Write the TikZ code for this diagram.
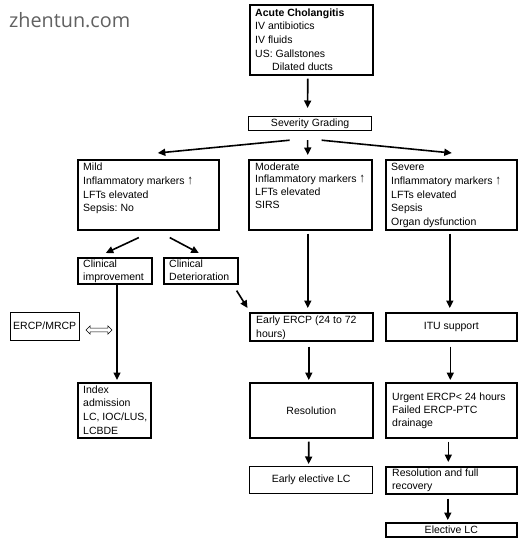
\documentclass[tikz,border=0pt]{standalone}
\usepackage{fontspec}
\setmainfont{Liberation Sans}
\newfontfamily\wmfont{Open Sans}
\usetikzlibrary{arrows.meta,shapes.arrows,calc}
\newcommand{\uparr}{\scalebox{1}[1.25]{↑}}
\frenchspacing
\begin{document}
\begin{tikzpicture}[x=1pt,y=-1pt,
  box/.style={draw, line width=1.6pt, inner sep=0pt, anchor=north west},
  thinbox/.style={box, line width=1pt},
  txt/.style={anchor=north west, inner sep=0pt, align=left, font=\fontsize{10.5}{13.7}\selectfont},
  ctxt/.style={anchor=center, inner sep=0pt, font=\fontsize{10.5}{13.7}\selectfont},
  arr/.style={line width=1.6pt, -{Triangle[length=7.5pt,width=7pt]}},
]
\useasboundingbox[fill=white] (0,0) rectangle (525,542);

% watermark
\node[anchor=base west, inner sep=0pt, text=black!62, font=\wmfont\fontsize{19.8}{22}\selectfont] (wm) at (9,27) {zhentun.com};

% boxes
\node[box, minimum width=123pt, minimum height=70pt] (top) at (249,4) {};
\node[box, line width=1.2pt, minimum width=123pt, minimum height=14pt] (sev) at (248,116) {};
\node[box, minimum width=141pt, minimum height=70pt] (mild) at (77,159) {};
\node[box, minimum width=123pt, minimum height=70pt] (mod) at (248,159) {};
\node[box, minimum width=131pt, minimum height=70pt] (severe) at (385,159) {};
\node[box, minimum width=74pt, minimum height=26pt] (cimp) at (77,257) {};
\node[box, minimum width=74pt, minimum height=26pt] (cdet) at (163,257) {};
\node[thinbox, minimum width=69pt, minimum height=28pt] (mrcp) at (10,312) {};
\node[box, minimum width=123pt, minimum height=28pt] (eercp) at (249,312) {};
\node[box, minimum width=131pt, minimum height=28pt] (itu) at (385,312) {};
\node[box, minimum width=73pt, minimum height=55pt] (index) at (77,382) {};
\node[box, minimum width=123pt, minimum height=55pt] (res) at (249,382) {};
\node[box, minimum width=131pt, minimum height=55pt] (urg) at (385,382) {};
\node[box, line width=1.3pt, minimum width=123pt, minimum height=27pt] (eelc) at (249,466) {};
\node[box, minimum width=131pt, minimum height=27pt] (rfull) at (385,466) {};
\node[box, minimum width=131pt, minimum height=14pt] (elc) at (385,522) {};

% texts
\node[txt] (top-t) at (255,6.4) {\strut\textbf{Acute Cholangitis}\\IV antibiotics\\IV fluids\\US: Gallstones\\\hspace*{17pt}Dilated ducts};
\node[ctxt] (sev-t) at (sev.center) {Severity Grading};
\node[txt] (mild-t) at (83,161) {\strut Mild\\Inflammatory markers \uparr\\LFTs elevated\\Sepsis: No};
\node[txt, font=\fontsize{10.5}{12.8}\selectfont] (mod-t) at (255,161) {\strut Moderate\\Inflammatory markers \uparr\\LFTs elevated\\SIRS};
\node[txt] (severe-t) at (391,161) {\strut Severe\\Inflammatory markers \uparr\\LFTs elevated\\Sepsis\\Organ dysfunction};
\node[txt] (cimp-t) at (83,257.4) {\strut Clinical\\improvement};
\node[txt] (cdet-t) at (169,257.4) {\strut Clinical\\Deterioration};
\node[txt] (mrcp-t) at (13,319.4) {\strut ERCP/MRCP};
\node[txt, font=\fontsize{10.5}{14}\selectfont] (eercp-t) at (256,313.2) {\strut Early ERCP (24 to 72\\hours)};
\node[ctxt] (itu-t) at (itu.center) {ITU support};
\node[txt] (index-t) at (83,383.4) {\strut Index\\admission\\LC, IOC/LUS,\\LCBDE};
\node[ctxt] (res-t) at (res.center) {Resolution};
\node[txt, font=\fontsize{10.5}{13}\selectfont] (urg-t) at (392,391.4) {\strut Urgent ERCP< 24 hours\\Failed ERCP-PTC\\drainage};
\node[ctxt] (eelc-t) at (eelc.center) {Early elective LC};
\node[txt] (rfull-t) at (392,466.4) {\strut Resolution and full\\recovery};
\node[ctxt] (elc-t) at (elc.center) {Elective LC};

% double arrow
\node[double arrow, draw, line width=0.6pt, minimum height=26pt, minimum width=8pt, inner sep=1.6pt, double arrow head extend=2.2pt] (dbl) at (99,330) {};

% connectors
\draw[arr] ($(top.south)+(-3.5,3)$) -- ($(sev.north)+(-2.5,-8)$);
\draw[arr] ($(sev.south)+(-20.5,9)$) -- ($(mild.north)+(9.5,-6)$);
\draw[arr] ($(sev.south)+(-2.5,9)$) -- ($(mod.north)+(-2.5,-4)$);
\draw[arr] ($(sev.south)+(11.5,9)$) -- ($(severe.north)+(0.5,-6)$);
\draw[arr] ($(mild.south)+(-9.5,7)$) -- ($(cimp.north)+(-9,-4)$);
\draw[arr] ($(mild.south)+(21.5,7)$) -- ($(cdet.north)+(-2,-4)$);
\draw[arr] ($(cdet.south east)+(-2,6)$) -- ($(eercp.north west)+(-1.5,-4)$);
\draw[arr] ($(mod.south)+(-2.5,3)$) -- ($(eercp.north)+(-3.5,-4)$);
\draw[arr] ($(severe.south)+(-1.5,3)$) -- ($(itu.north)+(-1.5,-4)$);
\draw[arr] (cimp.south -| 117,0) -- ($(index.north -| 117,0)+(0,-2)$);
\draw[arr] ($(eercp.south)+(-2.5,5)$) -- ($(res.north)+(-2.5,-2)$);
\draw[arr] ($(itu.south)+(-1,5)$) -- ($(urg.north)+(-1,-2)$);
\draw[arr] ($(res.south)+(-2.5,3)$) -- ($(eelc.north)+(-2.5,-2)$);
\draw[arr] ($(urg.south)+(-3,3)$) -- ($(rfull.north)+(-3,-4)$);
\draw[arr] ($(rfull.south)+(-3.5,4)$) -- ($(elc.north)+(-3.5,-2)$);
\end{tikzpicture}
\end{document}
